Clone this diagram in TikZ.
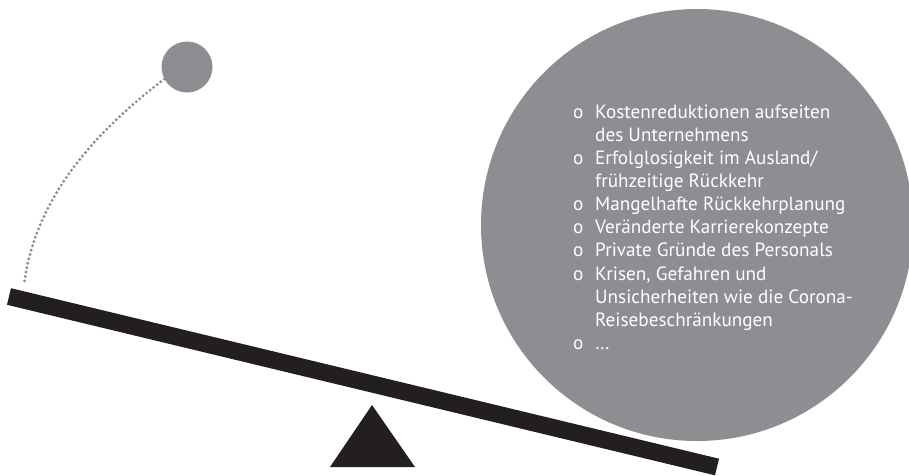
\documentclass[tikz,border=0pt]{standalone}
\usepackage{fontspec}
\setmainfont{PT Sans}
\definecolor{sgray}{RGB}{141,142,146}
\definecolor{sblack}{RGB}{35,31,32}
\newcommand{\bul}{\makebox[22pt][l]{o}}
\begin{document}
\begin{tikzpicture}[x=1pt,y=-1pt,
  disc/.style={circle,fill=sgray,draw=none,inner sep=0pt},
  dotline/.style={sgray,line width=3.2pt,line cap=round,dash pattern=on 0pt off 4.5pt},
  listtext/.style={anchor=base west,inner sep=0pt,text=white,font=\fontsize{19.2}{23.1}\selectfont}]
\useasboundingbox (0,0) rectangle (909,475);
% large disc with the list
\node[disc,minimum size=432pt] (big) at (697,225) {};
\node[listtext] (list) at (573,118.3) {\begin{tabular}[t]{@{}l@{}l@{}}
\bul & Kostenreduktionen aufseiten\\
     & des Unternehmens\\
\bul & Erfolglosigkeit im Ausland/\\
     & frühzeitige Rückkehr\\
\bul & Mangelhafte Rückkehrplanung\\
\bul & Veränderte Karrierekonzepte\\
\bul & Private Gründe des Personals\\
\bul & Krisen, Gefahren und\\
     & Unsicherheiten wie die Corona-\\
     & Reisebeschränkungen\\
\bul & …
\end{tabular}};
% small ball
\node[disc,minimum size=51pt] (ball) at (187,67) {};
% beam
\fill[sblack] (11,288.2) -- (719,458.7) -- (715,475.3) -- (7,304.8) -- cycle;
\coordinate (beamL) at (24,285);
% fulcrum
\fill[sblack] (372,405) -- (415,467) -- (330,467) -- cycle;
% dotted trajectory
\draw[dotline] (ball.208) .. controls (100,128) and (35,195) .. (beamL);
\end{tikzpicture}
\end{document}
